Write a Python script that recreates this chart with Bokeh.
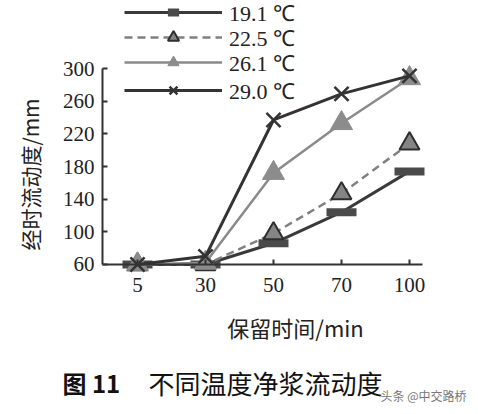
import math
from bokeh.plotting import figure
from bokeh.models import Range1d, FixedTicker, Legend, LegendItem, Label
from bokeh.embed import file_html
from bokeh.resources import INLINE

# ---- data ----
times = ["5", "30", "50", "70", "100"]
t19_1 = [60, 60, 86, 124, 174]
t22_5 = [60, 60, 98, 147, 208]
t26_1 = [60, 62, 172, 233, 288]
t29_0 = [60, 70, 237, 269, 291]
series_names = ["19.1 ℃", "22.5 ℃", "26.1 ℃", "29.0 ℃"]
y_ticks = [60, 100, 140, 180, 220, 260, 300]

xs = list(range(len(times)))

SERIF = "Liberation Serif"
CJK = "Noto Sans CJK SC"

# axes extents (in data units) and the whole-canvas view around them
X_AXIS_START, X_AXIS_END = -0.515, 4.19

p = figure(width=470, height=406, output_backend="svg", toolbar_location=None,
           x_range=Range1d(-2.0147, 4.897), y_range=Range1d(-113.9, 383.3),
           min_border=0)
p.outline_line_color = None
p.xgrid.visible = False
p.ygrid.visible = False
p.background_fill_color = "white"
p.border_fill_color = "white"

for ax in (p.xaxis[0], p.yaxis[0]):
    ax.axis_line_color = "#333333"
    ax.axis_line_width = 2
    ax.major_tick_line_color = "#333333"
    ax.major_tick_line_width = 2
    ax.major_tick_in = 5
    ax.major_tick_out = 0
    ax.minor_tick_line_color = None
    ax.major_label_text_font = SERIF
    ax.major_label_text_font_size = "21px"
    ax.major_label_text_color = "#222222"

p.xaxis.ticker = FixedTicker(ticks=xs)
p.xaxis.major_label_overrides = {i: t for i, t in enumerate(times)}
p.xaxis.major_label_standoff = 14
p.xaxis.fixed_location = y_ticks[0]
p.xaxis.bounds = (X_AXIS_START, X_AXIS_END)

p.yaxis.ticker = FixedTicker(ticks=y_ticks)
p.yaxis.major_label_standoff = 8
p.yaxis.fixed_location = X_AXIS_START
p.yaxis.bounds = (y_ticks[0], y_ticks[-1])

# series
l1 = p.line(xs, t19_1, line_color="#3a3a3a", line_width=3)
m1 = p.scatter(xs, t19_1, marker="dash", size=30, line_color="#4a4a4a", line_width=8)

l2 = p.line(xs, t22_5, line_color="#808080", line_width=2.5, line_dash="8 5")
m2 = p.scatter(xs, t22_5, marker="triangle", size=20, fill_color="#858585",
               line_color="#2e2e2e", line_width=2)

l3 = p.line(xs, t26_1, line_color="#8a8a8a", line_width=2.5)
m3 = p.scatter(xs, t26_1, marker="triangle", size=22, fill_color="#8c8c8c",
               line_color="#8c8c8c", line_width=1)

l4 = p.line(xs, t29_0, line_color="#333333", line_width=3)
m4 = p.scatter(xs, t29_0, marker="x", size=20, line_color="#333333", line_width=2.5)

# one legend row per series so the rows sit where they do in the reference
row_renderers = [[l1, m1], [l2, m2], [l3, m3], [l4, m4]]
row_bottoms = [379, 354, 329, 301]
for name, rends, yb in zip(series_names, row_renderers, row_bottoms):
    lg = Legend(items=[LegendItem(label=name, renderers=rends)], location=(124, yb))
    lg.background_fill_alpha = 0
    lg.border_line_color = None
    lg.padding = 0
    lg.margin = 0
    lg.spacing = 0
    lg.glyph_width = 98
    lg.glyph_height = 28
    lg.label_height = 28
    lg.label_standoff = 7
    lg.label_text_font = SERIF
    lg.label_text_font_size = "22px"
    lg.label_text_color = "#222222"
    p.add_layout(lg, "center")

# axis titles
p.add_layout(Label(x=29, y=232, x_units="screen", y_units="screen",
                   text="经时流动度/mm", angle=math.pi / 2, text_font=CJK,
                   text_font_size="21px", text_color="#222222",
                   text_align="center", text_baseline="middle"))
p.add_layout(Label(x=295, y=80, x_units="screen", y_units="screen",
                   text="保留时间/min", text_font=CJK, text_font_size="22px",
                   text_color="#222222", text_align="center", text_baseline="middle"))

# caption and watermark
p.add_layout(Label(x=62, y=24, x_units="screen", y_units="screen",
                   text="图 11", text_font=CJK, text_font_size="24px",
                   text_font_style="bold", text_color="#111111",
                   text_align="left", text_baseline="middle"))
p.add_layout(Label(x=148, y=24, x_units="screen", y_units="screen",
                   text="不同温度净浆流动度", text_font=CJK, text_font_size="26px",
                   text_color="#111111", text_align="left", text_baseline="middle"))
p.add_layout(Label(x=466, y=11, x_units="screen", y_units="screen",
                   text="头条 @中交路桥", text_font=CJK, text_font_size="12px",
                   text_color="#777777", text_align="right", text_baseline="middle"))

open("out.html", "w").write(file_html(p, INLINE))
